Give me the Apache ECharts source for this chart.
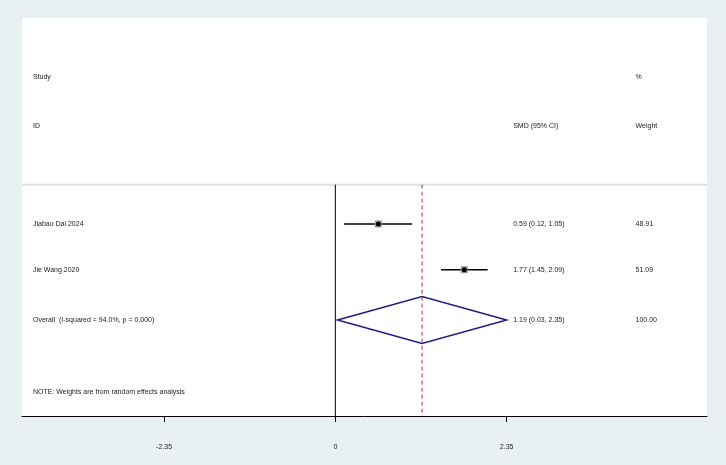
<!DOCTYPE html>
<html><head><meta charset="utf-8">
<script src="https://cdn.jsdelivr.net/npm/echarts@6/dist/echarts.min.js"></script>
<style>html,body{margin:0;padding:0;background:#e8f0f3}#c{width:726px;height:465px}</style>
</head><body><div id="c"></div>
<script>
// study rows
const studies = ['Jiabao Dai 2024', 'Jie Wang 2020'];
const smd = [0.59, 1.77];
const lower = [0.12, 1.45];
const upper = [1.05, 2.09];
const weights = ['48.91', '51.09'];
const ciText = ['0.59 (0.12, 1.05)', '1.77 (1.45, 2.09)'];
// overall
const overall = { label: 'Overall  (I-squared = 94.0%, p = 0.000)', est: 1.19, lo: 0.03, hi: 2.35, ci: '1.19 (0.03, 2.35)', w: '100.00' };
const tickVals = [-2.35, 0, 2.35];
const rowY = [4.14, 5.06];
const overallY = 6.07;

const XMIN = -4.3, XMAX = 5.1, TEXT_X = -4.15, CI_X = 2.44, W_X = 4.12;

const chart = echarts.init(document.getElementById('c'));
const font = { fontFamily: 'Arial, Liberation Sans', fontSize: 7, fill: '#222' };

function txt(api, x, y, s) {
  const p = api.coord([x, y]);
  return { type: 'text', style: Object.assign({ x: p[0], y: p[1], text: s, verticalAlign: 'middle' }, font) };
}

chart.setOption({
  animation: false,
  grid: { left: 22, right: 19, top: 18, bottom: 49, show: true, backgroundColor: '#fff', borderWidth: 0 },
  xAxis: {
    type: 'value', min: XMIN, max: XMAX,
    splitLine: { show: false },
    axisLine: { onZero: false, lineStyle: { color: '#000', width: 1 } },
    axisTick: { customValues: tickVals, length: 6, lineStyle: { color: '#000' } },
    axisLabel: { customValues: tickVals, color: '#222', fontSize: 7, fontFamily: 'Arial', margin: 28,
      formatter: v => v === 0 ? '0' : v.toFixed(2) }
  },
  yAxis: { type: 'value', min: 0, max: 8, inverse: true, show: false },
  series: [{
    type: 'custom',
    data: [0],
    renderItem: function (params, api) {
      const kids = [];
      const top = api.coord([0, 3.35])[1], bot = api.coord([0, 8])[1];
      const l = api.coord([XMIN, 0])[0], r = api.coord([XMAX, 0])[0];
      kids.push({ type: 'line', shape: { x1: l, y1: top, x2: r, y2: top }, style: { stroke: '#e2e2e2', lineWidth: 2 } });
      const x0 = api.coord([0, 0])[0];
      kids.push({ type: 'line', shape: { x1: x0, y1: top, x2: x0, y2: bot }, style: { stroke: '#000', lineWidth: 1 } });
      const xe = api.coord([overall.est, 0])[0];
      kids.push({ type: 'line', shape: { x1: xe, y1: top, x2: xe, y2: bot }, style: { stroke: '#b03040', lineWidth: 1, lineDash: [4, 3] } });
      kids.push(txt(api, TEXT_X, 1.19, 'Study'));
      kids.push(txt(api, TEXT_X, 2.17, 'ID'));
      kids.push(txt(api, CI_X, 2.17, 'SMD (95% CI)'));
      kids.push(txt(api, W_X, 1.19, '%'));
      kids.push(txt(api, W_X, 2.17, 'Weight'));
      studies.forEach((s, i) => {
        const y = rowY[i];
        const a = api.coord([lower[i], y]), b = api.coord([upper[i], y]), m = api.coord([smd[i], y]);
        kids.push({ type: 'line', shape: { x1: a[0], y1: a[1], x2: b[0], y2: b[1] }, style: { stroke: '#000', lineWidth: 1.5 } });
        kids.push({ type: 'rect', shape: { x: m[0] - 3.5, y: m[1] - 3.5, width: 7, height: 7 }, style: { fill: '#999' } });
        kids.push({ type: 'circle', shape: { cx: m[0], cy: m[1], r: 2.5 }, style: { fill: '#000' } });
        kids.push(txt(api, TEXT_X, y, s));
        kids.push(txt(api, CI_X, y, ciText[i]));
        kids.push(txt(api, W_X, y, weights[i]));
      });
      const dl = api.coord([overall.lo, overallY]), dr = api.coord([overall.hi, overallY]);
      const dt = api.coord([overall.est, overallY - 0.47]), db = api.coord([overall.est, overallY + 0.47]);
      kids.push({ type: 'polygon', shape: { points: [dl, dt, dr, db] }, style: { fill: 'none', stroke: '#1c1c85', lineWidth: 1.5 } });
      kids.push(txt(api, TEXT_X, overallY, overall.label));
      kids.push(txt(api, CI_X, overallY, overall.ci));
      kids.push(txt(api, W_X, overallY, overall.w));
      kids.push(txt(api, TEXT_X, 7.52, 'NOTE: Weights are from random effects analysis'));
      return { type: 'group', children: kids };
    }
  }]
});
</script></body></html>
